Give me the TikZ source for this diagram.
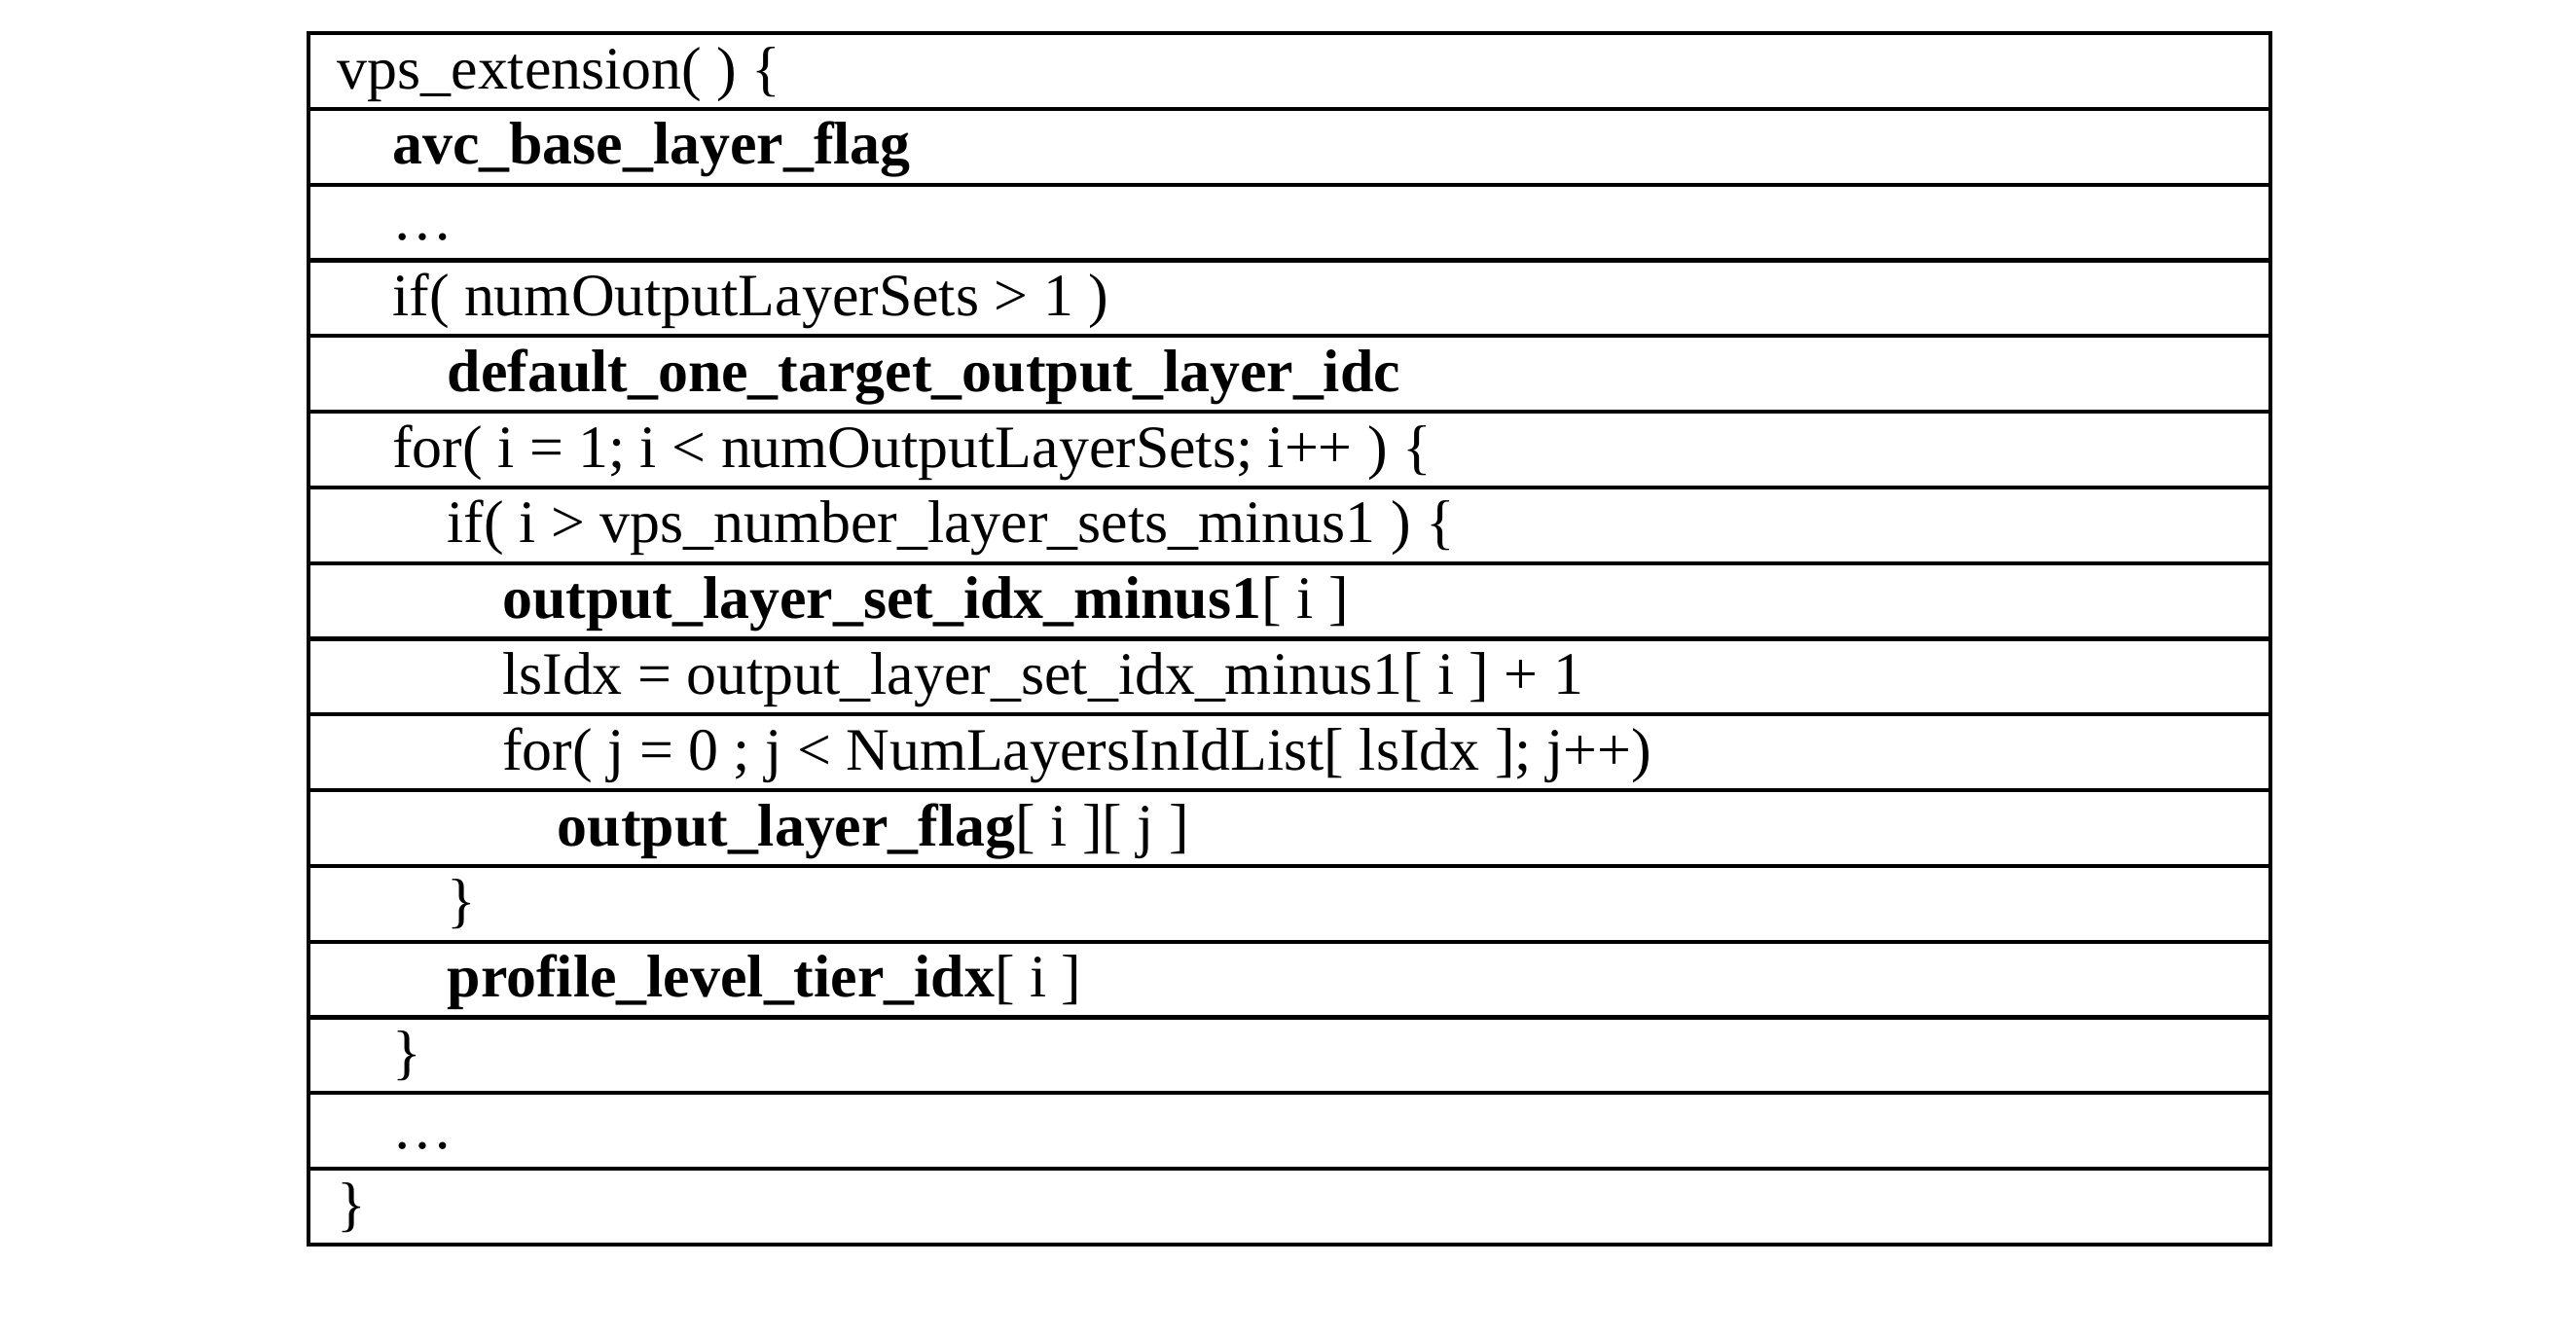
\documentclass[tikz,border=0pt]{standalone}
\usepackage{fontspec}
\setmainfont{Liberation Serif}
\usetikzlibrary{positioning}
\tikzset{
  row/.style={draw, line width=1.2pt, minimum width=20.16cm, minimum height=0.778cm,
    inner sep=0pt, outer sep=0pt, anchor=north west},
  code/.style={anchor=base west, inner sep=0pt, font=\fontsize{17.6}{17.6}\selectfont}
}
\begin{document}
\begin{tikzpicture}[x=1cm,y=1cm]
    \useasboundingbox (0,0) rectangle (26.47,-13.73);
    % table rows
    \foreach \n in {0,...,15} {
        \node[row] (r\n) at (3.17,{-0.34-0.778*\n}) {};
    }
    % code lines: row / indent level / text
    \foreach \n/\lvl/\txt in {
        0/0/{vps\_extension( ) \{},
        1/1/{\textbf{avc\_base\_layer\_flag}},
        2/1/{\dots},
        3/1/{if( numOutputLayerSets > 1 )},
        4/2/{\textbf{default\_one\_target\_output\_layer\_idc}},
        5/1/{for( i = 1; i < numOutputLayerSets; i++ ) \{},
        6/2/{if( i > vps\_number\_layer\_sets\_minus1 ) \{},
        7/3/{\textbf{output\_layer\_set\_idx\_minus1}[ i ]},
        8/3/{lsIdx = output\_layer\_set\_idx\_minus1[ i ] + 1},
        9/3/{for( j = 0 ; j < NumLayersInIdList[ lsIdx ]; j++)},
        10/4/{\textbf{output\_layer\_flag}[ i ][ j ]},
        11/2/{\}},
        12/2/{\textbf{profile\_level\_tier\_idx}[ i ]},
        13/1/{\}},
        14/1/{\dots},
        15/0/{\}}} {
        \node[code] (t\n) at ([xshift={0.29cm+0.565cm*\lvl}, yshift=-0.57cm]r\n.north west) {\txt};
    }
\end{tikzpicture}
\end{document}
